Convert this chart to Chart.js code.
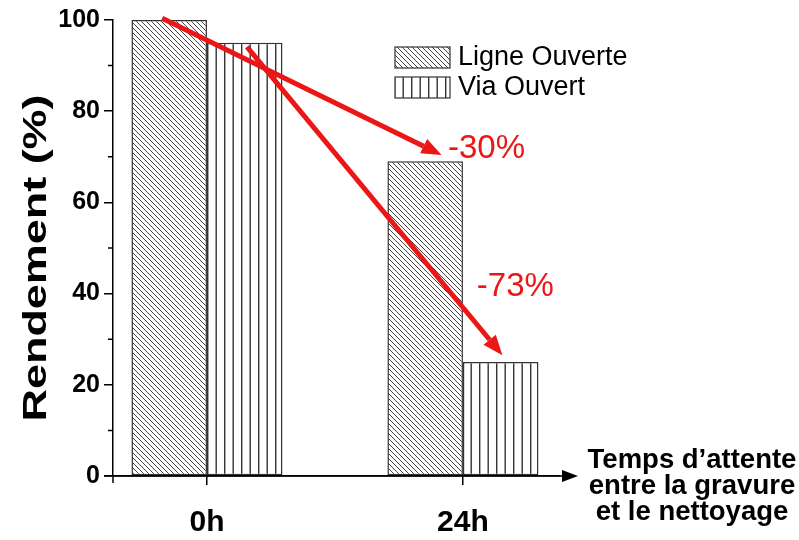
<!DOCTYPE html>
<html lang="fr">
<head>
<meta charset="UTF-8">
<title>Rendement</title>
<script src="https://cdn.jsdelivr.net/npm/chart.js"></script>
<style>
  body { margin: 0; background: #fff; }
  .chart-box { width: 799px; height: 540px; }
</style>
</head>
<body>
<div class="chart-box"><canvas id="rendementChart"></canvas></div>
<script>
// temps d'attente (h) et rendements (%)
const heures = [0, 24];
const heureLabels = ['0h', '24h'];
const ligneOuverte = [100, 69];
const viaOuvert = [95, 25];
const yTicks = [0, 20, 40, 60, 80, 100];
const yMinorTicks = [10, 30, 50, 70, 90];
// flèches de perte, en (h, %)
const fleches = [
  { from: [-4.2, 100.4], to: [22.0, 70.4] },
  { from: [3.75, 94.1], to: [27.7, 26.5] }
];
const pertes = [
  { text: '-30%', at: [22.6, 71.8] },
  { text: '-73%', at: [25.3, 41.5] }
];
const titreY = 'Rendement (%)';
const titreX = ['Temps d\u2019attente', 'entre la gravure', 'et le nettoyage'];

const FONT = '"Liberation Sans", Arial, sans-serif';
const ROUGE = 'rgb(236, 22, 22)';

const canvas = document.getElementById('rendementChart');
const ctx = canvas.getContext('2d');

function hachures() {
  const c = document.createElement('canvas');
  c.width = 5; c.height = 5;
  const g = c.getContext('2d');
  g.fillStyle = '#fff'; g.fillRect(0, 0, 5, 5);
  g.strokeStyle = '#444'; g.lineWidth = 1;
  g.beginPath();
  g.moveTo(-1, -1); g.lineTo(6, 6);
  g.moveTo(-1, 4); g.lineTo(1, 6);
  g.moveTo(4, -1); g.lineTo(6, 1);
  g.stroke();
  return ctx.createPattern(c, 'repeat');
}

function verticales() {
  const c = document.createElement('canvas');
  c.width = 17; c.height = 4;
  const g = c.getContext('2d');
  g.fillStyle = '#fff'; g.fillRect(0, 0, 17, 4);
  g.fillStyle = '#333';
  g.fillRect(3, 0, 1.4, 4);
  g.fillRect(11.5, 0, 1.4, 4);
  return ctx.createPattern(c, 'repeat');
}

const motifs = [hachures(), verticales()];

function fleche(c, x1, y1, x2, y2) {
  const ang = Math.atan2(y2 - y1, x2 - x1);
  const len = 20, half = 8;
  const bx = x2 - len * Math.cos(ang), by = y2 - len * Math.sin(ang);
  c.beginPath();
  c.moveTo(x1, y1); c.lineTo(bx, by);
  c.stroke();
  c.beginPath();
  c.moveTo(x2, y2);
  c.lineTo(bx + half * Math.sin(ang), by - half * Math.cos(ang));
  c.lineTo(bx - half * Math.sin(ang), by + half * Math.cos(ang));
  c.closePath();
  c.fill();
}

// axes prolongés, graduations secondaires, légende, titres et flèches
const decor = {
  id: 'decor',
  afterDraw(chart) {
    const { ctx: c, chartArea: a, scales: { x, y } } = chart;
    const y0 = y.getPixelForValue(0);
    c.save();

    c.strokeStyle = '#000'; c.fillStyle = '#000'; c.lineWidth = 1.5;
    c.beginPath();
    c.moveTo(a.left - 9, y0); c.lineTo(a.right + 6, y0);
    c.moveTo(a.left, y0); c.lineTo(a.left, y0 + 7);
    yMinorTicks.forEach(v => {
      const py = y.getPixelForValue(v);
      c.moveTo(a.left - 5, py); c.lineTo(a.left, py);
    });
    c.stroke();
    c.beginPath();
    c.moveTo(a.right + 18, y0);
    c.lineTo(a.right + 2, y0 - 6);
    c.lineTo(a.right + 2, y0 + 6);
    c.closePath();
    c.fill();

    // légende
    chart.data.datasets.forEach((ds, i) => {
      const top = 47 + i * 30;
      c.fillStyle = ds.backgroundColor;
      c.fillRect(395, top, 55, 21);
      c.strokeStyle = '#333'; c.lineWidth = 1.2;
      c.strokeRect(395, top, 55, 21);
      c.fillStyle = '#000';
      c.font = '27px ' + FONT;
      c.textAlign = 'left'; c.textBaseline = 'middle';
      c.fillText(ds.label, 458, top + 11);
    });

    // titre vertical
    c.save();
    c.font = 'bold 33px ' + FONT;
    const w = c.measureText(titreY).width;
    c.translate(46, 258);
    c.rotate(-Math.PI / 2);
    c.scale(327 / w, 1);
    c.textAlign = 'center'; c.textBaseline = 'alphabetic';
    c.fillStyle = '#000';
    c.fillText(titreY, 0, 0);
    c.restore();

    // titre horizontal
    c.font = 'bold 27.5px ' + FONT;
    c.textAlign = 'center'; c.textBaseline = 'alphabetic';
    c.fillStyle = '#000';
    titreX.forEach((t, i) => c.fillText(t, 692, 468 + i * 26));

    // flèches rouges
    c.strokeStyle = ROUGE; c.fillStyle = ROUGE;
    c.lineWidth = 5; c.lineCap = 'butt';
    fleches.forEach(f => fleche(c,
      x.getPixelForValue(f.from[0]), y.getPixelForValue(f.from[1]),
      x.getPixelForValue(f.to[0]), y.getPixelForValue(f.to[1])));

    c.font = '33px ' + FONT;
    c.textAlign = 'left'; c.textBaseline = 'middle';
    pertes.forEach(p => c.fillText(p.text, x.getPixelForValue(p.at[0]), y.getPixelForValue(p.at[1])));

    c.restore();
  }
};

const axeBorder = { display: true, color: '#000', width: 1.5 };

new Chart(ctx, {
  type: 'bar',
  data: {
    datasets: [
      {
        label: 'Ligne Ouverte',
        data: heures.map((h, i) => ({ x: h, y: ligneOuverte[i] })),
        backgroundColor: motifs[0]
      },
      {
        label: 'Via Ouvert',
        data: heures.map((h, i) => ({ x: h, y: viaOuvert[i] })),
        backgroundColor: motifs[1]
      }
    ].map(ds => Object.assign(ds, {
      borderColor: '#333', borderWidth: 1.5, borderSkipped: false,
      categoryPercentage: 0.59, barPercentage: 1
    }))
  },
  options: {
    responsive: true,
    maintainAspectRatio: false,
    animation: false,
    layout: { padding: { top: 20, right: 239, left: 0, bottom: 0 } },
    plugins: { legend: { display: false }, tooltip: { enabled: false } },
    scales: {
      x: {
        type: 'linear', min: -8.81, max: 33.1, offset: false,
        afterBuildTicks: s => { s.ticks = heures.map(v => ({ value: v })); },
        afterFit: s => { s.height = 64; },
        ticks: {
          callback: v => heureLabels[heures.indexOf(v)],
          font: { family: FONT, size: 30, weight: 'bold' },
          color: '#000', padding: 20, maxRotation: 0, autoSkip: false
        },
        grid: { offset: false, drawOnChartArea: false, drawTicks: true, tickLength: 9, color: '#000', lineWidth: 1.5 },
        border: axeBorder
      },
      y: {
        min: 0, max: 100,
        afterBuildTicks: s => { s.ticks = yTicks.map(v => ({ value: v })); },
        afterFit: s => { s.width = 113; },
        ticks: {
          font: { family: FONT, size: 25, weight: 'bold' },
          color: '#000', padding: 4
        },
        grid: { drawOnChartArea: false, drawTicks: true, tickLength: 9, color: '#000', lineWidth: 1.5 },
        border: axeBorder
      }
    }
  },
  plugins: [decor]
});
</script>
</body>
</html>
